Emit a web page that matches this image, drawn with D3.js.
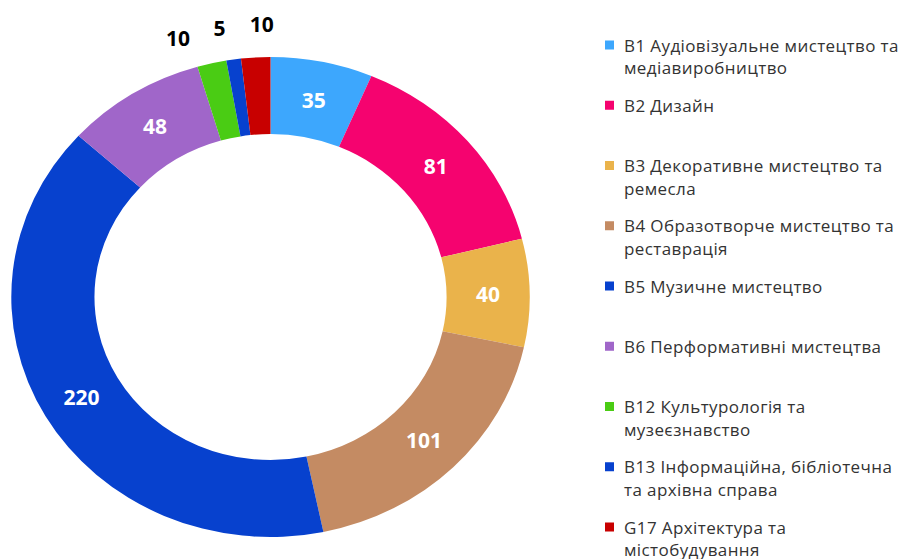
<!DOCTYPE html>
<html>
<head>
<meta charset="utf-8">
<script src="https://cdn.jsdelivr.net/npm/d3@7"></script>
<style>
  body { margin: 0; background: #fff; }
  svg { display: block; }
</style>
</head>
<body>
<script>
// Спеціальності (порядок як у легенді)
const categories = [
    ["В1 Аудіовізуальне мистецтво та", "медіавиробництво"],
    ["В2 Дизайн"],
    ["В3 Декоративне мистецтво та", "ремесла"],
    ["В4 Образотворче мистецтво та", "реставрація"],
    ["В5 Музичне мистецтво"],
    ["В6 Перформативні мистецтва"],
    ["В12 Культурологія та", "музеєзнавство"],
    ["В13 Інформаційна, бібліотечна", "та архівна справа"],
    ["G17 Архітектура та", "містобудування"]
]

// Кількість
const values = [35, 81, 40, 101, 220, 48, 10, 5, 10]

const colors = ["#3da7fd", "#f5036f", "#eab34b", "#c48b63", "#0741ce", "#a066c9", "#4acc14", "#0741ce", "#c80000"]

const width = 915, height = 559
const cx = 270.5, cy = 297, sx = 1.08
const rOuter = 240, rInner = 163

const data = values.map((v, i) => ({ value: v, label: categories[i], color: colors[i] }))

const svg = d3.select("body")
    .append("svg")
    .attr("width", width)
    .attr("height", height)

const pie = d3.pie()
    .sort(null)
    .value(d => d.value)

const arcs = pie(data)

const arc = d3.arc()
    .innerRadius(rInner)
    .outerRadius(rOuter)

// anneau (légèrement étiré horizontalement comme l'original)
svg.append("g")
    .attr("transform", "translate(" + cx + "," + cy + ") scale(" + sx + ",1)")
    .selectAll("path")
    .data(arcs)
    .join("path")
    .attr("d", arc)
    .attr("fill", d => d.data.color)

// étiquettes à l'intérieur
svg.append("g")
    .selectAll("text")
    .data(arcs.filter(d => d.data.value >= 30))
    .join("text")
    .attr("x", d => cx + sx * arc.centroid(d)[0])
    .attr("y", d => cy + arc.centroid(d)[1])
    .attr("text-anchor", "middle")
    .attr("dominant-baseline", "central")
    .style("font-family", "'Open Sans', sans-serif")
    .style("font-weight", "bold")
    .style("font-size", "21px")
    .style("fill", "white")
    .text(d => d.data.value)

// petites valeurs : étiquettes à l'extérieur, écartées pour ne pas se chevaucher
const small = arcs.filter(d => d.data.value < 30)
const midAngle = d => (d.startAngle + d.endAngle) / 2
const centerAngle = d3.mean(small, midAngle) - 1.8 * Math.PI / 180
const gap = 8.3 * Math.PI / 180
const rLabel = 273

svg.append("g")
    .selectAll("text")
    .data(small)
    .join("text")
    .attr("x", (d, k) => cx + sx * rLabel * Math.sin(centerAngle + (k - (small.length - 1) / 2) * gap))
    .attr("y", (d, k) => cy - rLabel * Math.cos(centerAngle + (k - (small.length - 1) / 2) * gap))
    .attr("text-anchor", "middle")
    .attr("dominant-baseline", "central")
    .style("font-family", "'Open Sans', sans-serif")
    .style("font-weight", "bold")
    .style("font-size", "21px")
    .style("fill", "black")
    .text(d => d.data.value)

// légende
const legendY = d3.scaleLinear()
    .domain([0, data.length - 1])
    .range([45, 527])

const legend = svg.append("g")
    .selectAll("g")
    .data(data)
    .join("g")
    .attr("transform", (d, i) => "translate(605," + legendY(i) + ")")

legend.append("rect")
    .attr("x", 0)
    .attr("y", -4.5)
    .attr("width", 9)
    .attr("height", 9)
    .attr("fill", d => d.color)

legend.append("text")
    .style("font-family", "'Open Sans', sans-serif")
    .style("font-size", "17px")
    .style("letter-spacing", "0.4px")
    .style("fill", "#333")
    .selectAll("tspan")
    .data(d => d.label)
    .join("tspan")
    .attr("x", 19)
    .attr("y", (t, j) => j * 22.5)
    .attr("dominant-baseline", "central")
    .text(t => t)
</script>
</body>
</html>
